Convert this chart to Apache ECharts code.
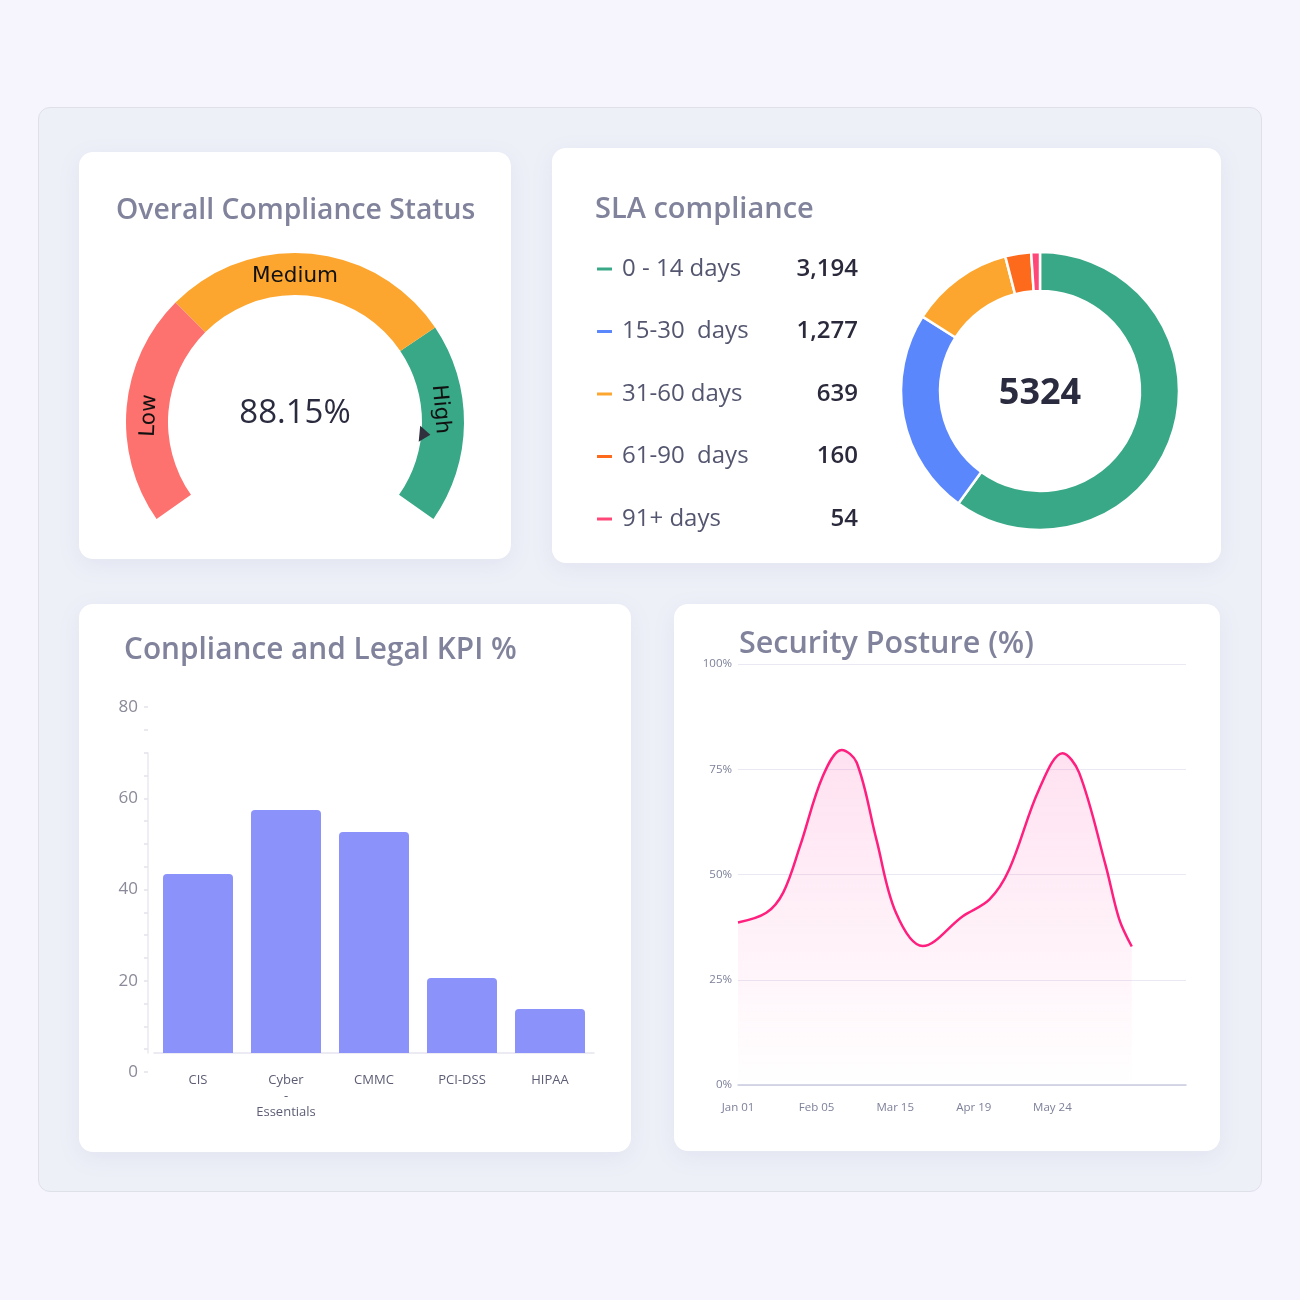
<!DOCTYPE html>
<html>
<head>
<meta charset="utf-8">
<script src="https://cdn.jsdelivr.net/npm/echarts@6/dist/echarts.min.js"></script>
<style>
  html, body { margin: 0; padding: 0; }
  body {
    width: 1300px; height: 1300px; position: relative; overflow: hidden;
    background: #f6f5fe; font-family: 'Open Sans', sans-serif;
  }
  #panel {
    position: absolute; left: 38px; top: 107px; width: 1222px; height: 1083px;
    background: #eef0f8; border: 1px solid #dfe0ea; border-radius: 12px;
  }
  .card {
    position: absolute; background: #fff; border-radius: 14px; overflow: hidden;
    box-shadow: 0 6px 22px rgba(120, 125, 170, 0.10);
  }
</style>
</head>
<body>
<div id="panel"></div>
<div class="card" id="gauge" style="left:79px;top:152px;width:432px;height:407px"></div>
<div class="card" id="sla" style="left:552px;top:148px;width:669px;height:415px"></div>
<div class="card" id="kpi" style="left:79px;top:604px;width:552px;height:548px"></div>
<div class="card" id="posture" style="left:674px;top:604px;width:546px;height:547px"></div>
<script>
// ---- data ----
const complianceValue = 88.15;
const gaugeBandNames = ['Low', 'Medium', 'High'];
const gaugeBandEnds = [32, 72.4, 100];
const gaugeBandLabelAt = [15, 50, 84];

const slaBuckets = ['0 - 14 days', '15-30  days', '31-60 days', '61-90  days', '91+ days'];
const slaCounts = [3194, 1277, 639, 160, 54];

const kpiFrameworks = ['CIS', 'Cyber\n-\nEssentials', 'CMMC', 'PCI-DSS', 'HIPAA'];
const kpiScores = [43.4, 57.4, 52.6, 20.6, 13.8];

const postureTickLabels = ['Jan 01', 'Feb 05', 'Mar 15', 'Apr 19', 'May 24'];
const postureX = [0, 0.36, 0.575, 0.79, 1.08, 1.32, 1.51, 1.76, 2.01, 2.35, 2.86, 3.2, 3.45, 3.83, 4.13, 4.34, 4.68, 4.85, 5.01];
const postureY = [38.6, 40.9, 45.7, 56.8, 73.4, 79.6, 76.6, 58.4, 40.9, 33.0, 40.1, 44.1, 51.2, 70.2, 78.8, 74.2, 52.0, 39.4, 32.9];

// ---- style ----
const FONT = "'Open Sans', sans-serif";
const titleStyle = size => ({ fontFamily: FONT, fontSize: size, fontWeight: 600, color: '#80839b' });
const gaugeColors = ['#fd716e', '#fca62f', '#38a886'];
const slaColors = ['#38a886', '#5b87fd', '#fca62f', '#fe6a1c', '#ff4778'];

// ---- gauge ----
const gaugeChart = echarts.init(document.getElementById('gauge'));
gaugeChart.setOption({
  title: { text: 'Overall Compliance Status', left: 37, top: 45, padding: 0, textStyle: titleStyle(28.3) },
  series: [{
    type: 'gauge',
    center: [216, 270],
    radius: 169,
    startAngle: 215,
    endAngle: -35,
    min: 0,
    max: 100,
    splitNumber: 100,
    axisLine: {
      lineStyle: { width: 42, color: gaugeBandEnds.map((e, i) => [e / 100, gaugeColors[i]]) }
    },
    splitLine: { show: false, length: 0, distance: 0 },
    axisTick: { show: false },
    axisLabel: {
      distance: 23,
      rotate: 'tangential',
      color: '#111',
      fontSize: 21.5,
      fontFamily: 'DejaVu Sans',
      formatter: v => {
        const i = gaugeBandLabelAt.indexOf(Math.round(v));
        return i >= 0 ? gaugeBandNames[i] : '';
      }
    },
    pointer: {
      icon: 'triangle', width: 16, length: 11, offsetCenter: [0, -125],
      itemStyle: { color: '#2f2f3d' }
    },
    anchor: { show: false },
    title: { show: false },
    detail: {
      formatter: v => v.toFixed(2) + '%',
      offsetCenter: [0, -8],
      fontSize: 33, fontWeight: 500, fontFamily: FONT, color: '#2b2b40'
    },
    data: [{ value: complianceValue }]
  }]
});

// ---- SLA donut ----
const slaTotal = slaCounts.reduce((a, b) => a + b, 0);
const slaChart = echarts.init(document.getElementById('sla'));
slaChart.setOption({
  color: slaColors,
  title: [
    { text: 'SLA compliance', left: 43, top: 47, padding: 0, textStyle: titleStyle(29) },
    {
      text: String(slaTotal), left: 488, top: 246, textAlign: 'center', textVerticalAlign: 'middle', padding: 0,
      textStyle: { fontFamily: FONT, fontSize: 36, fontWeight: 700, color: '#2b2b40' }
    }
  ],
  legend: {
    orient: 'vertical', left: 43, top: 109, padding: 0,
    itemWidth: 17, itemHeight: 5, itemGap: 38.5, icon: 'roundRect',
    selectedMode: false,
    data: slaBuckets,
    formatter: name => {
      const i = slaBuckets.indexOf(name);
      return '{n|' + name + '}{v|' + slaCounts[i].toLocaleString('en-US') + '}';
    },
    textStyle: {
      rich: {
        n: { width: 172, fontSize: 24, color: '#545670', fontFamily: FONT, padding: [0, 0, 0, 4] },
        v: { width: 64, align: 'right', fontSize: 24, color: '#2a2a3c', fontWeight: 600, fontFamily: FONT }
      }
    }
  },
  series: [{
    type: 'pie',
    center: [488, 243],
    radius: [100, 139],
    startAngle: 90,
    label: { show: false },
    labelLine: { show: false },
    silent: true,
    itemStyle: { borderColor: '#fff', borderWidth: 2.5 },
    data: slaBuckets.map((b, i) => ({ name: b, value: slaCounts[i] }))
  }]
});

// ---- KPI bars ----
// axis grid spans 0..80 (labels); bar grid sits a little higher on the same scale
const kpiMax = 80;
const labelGrid = { left: 69, top: 103, height: 365 };
const barGrid = { left: 75, top: 149, width: 440, height: 300 };
const pxPerUnit = labelGrid.height / kpiMax;
const labelBottom = labelGrid.top + labelGrid.height;
const barMin = (labelBottom - (barGrid.top + barGrid.height)) / pxPerUnit;
const barMax = (labelBottom - barGrid.top) / pxPerUnit;

const kpiChart = echarts.init(document.getElementById('kpi'));
kpiChart.setOption({
  title: { text: 'Conpliance and Legal KPI %', left: 45, top: 32, padding: 0, textStyle: titleStyle(29.8) },
  grid: [
    Object.assign({ width: 1 }, labelGrid),
    barGrid
  ],
  xAxis: [
    { gridIndex: 0, type: 'value', show: false },
    {
      gridIndex: 1, type: 'category', data: kpiFrameworks,
      axisLine: { lineStyle: { color: '#e6e4ee', width: 1.5 } },
      axisTick: { show: false },
      axisLabel: { fontFamily: FONT, fontSize: 13, color: '#5c5d74', lineHeight: 16, margin: 19, interval: 0 }
    }
  ],
  yAxis: [
    {
      gridIndex: 0, type: 'value', min: 0, max: kpiMax, interval: 20,
      axisLine: { show: false },
      axisTick: { show: true, length: 4, lineStyle: { color: '#e3e2ea', width: 1.5 } },
      minorTick: { show: true, splitNumber: 4, length: 4, lineStyle: { color: '#e3e2ea', width: 1.5 } },
      splitLine: { show: false },
      axisLabel: { fontFamily: FONT, fontSize: 17, color: '#8a8a98', margin: 10 }
    },
    {
      gridIndex: 1, type: 'value', min: barMin, max: barMax, offset: 6,
      axisLine: { show: true, lineStyle: { color: '#ebe9f1', width: 1.5 } },
      axisTick: { show: false }, axisLabel: { show: false }, splitLine: { show: false }
    }
  ],
  series: [{
    type: 'bar', xAxisIndex: 1, yAxisIndex: 1,
    data: kpiScores, barWidth: 70, clip: true, silent: true,
    itemStyle: { color: '#8b93fb', borderRadius: [4, 4, 0, 0] }
  }]
});

// ---- Security posture line ----
const postureChart = echarts.init(document.getElementById('posture'));
postureChart.setOption({
  title: { text: 'Security Posture (%)', left: 65, top: 25, padding: 0, textStyle: titleStyle(30.5) },
  grid: { left: 64, top: 60, width: 448, height: 421 },
  xAxis: {
    type: 'value', min: 0, max: 5.7, interval: 1,
    axisLine: { lineStyle: { color: '#c9cce0', width: 1.5 } },
    axisTick: { show: false },
    splitLine: { show: false },
    axisLabel: {
      fontFamily: FONT, fontSize: 11.5, color: '#7d8199', margin: 17, showMaxLabel: false,
      formatter: v => postureTickLabels[v] || ''
    }
  },
  yAxis: {
    type: 'value', min: 0, max: 100, interval: 25,
    axisLine: { show: false }, axisTick: { show: false },
    splitLine: { lineStyle: { color: '#e9e9f3' } },
    axisLabel: { fontFamily: FONT, fontSize: 11.5, color: '#7d8199', margin: 6, formatter: '{value}%' }
  },
  series: [{
    type: 'line', smooth: 0.35, symbol: 'none', silent: true,
    data: postureX.map((x, i) => [x, postureY[i]]),
    lineStyle: { color: '#ff1f7e', width: 2.5 },
    areaStyle: {
      color: new echarts.graphic.LinearGradient(0, 0, 0, 1, [
        { offset: 0, color: 'rgba(255, 60, 160, 0.22)' },
        { offset: 1, color: 'rgba(255, 60, 160, 0.0)' }
      ])
    }
  }]
});
</script>
</body>
</html>
